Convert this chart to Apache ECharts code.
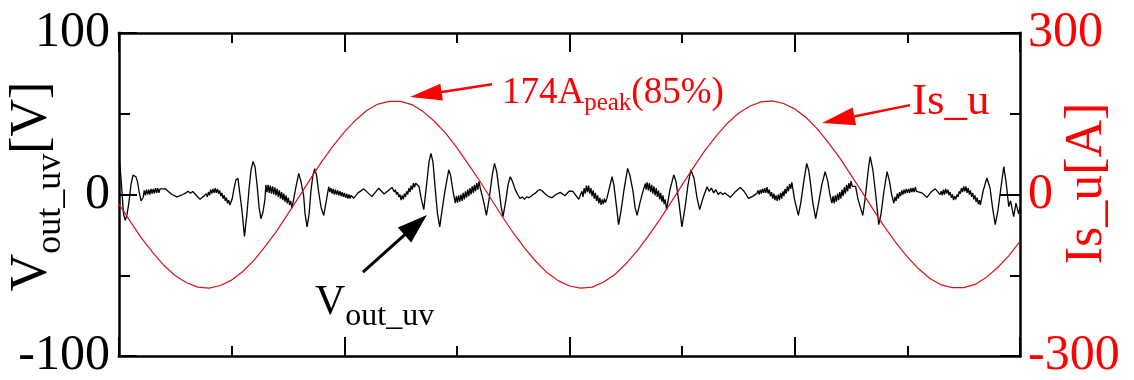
<!DOCTYPE html>
<html><head><meta charset="utf-8">
<script src="https://cdn.jsdelivr.net/npm/echarts@6/dist/echarts.min.js"></script>
<style>html,body{margin:0;padding:0;background:#fff;}#c{width:1134px;height:380px;}</style>
</head><body><div id="c"></div>
<script>
// ---- data (time in ms) ----
const timeRange = [0, 40];
const vRange = [-100, 100];
const iRange = [-300, 300];

// Is_u [A] (every 0.5 ms)
const isU = [[0,-18],[0.5,-50],[1,-81],[1.5,-108],[2,-132],[2.5,-151],[3,-164],[3.5,-172],[4,-174],[4.5,-169],[5,-159],[5.5,-143],[6,-122],[6.5,-96],[7,-68],[7.5,-36],[8,-4],[8.5,29],[9,61],[9.5,90],[10,116],[10.5,138],[11,156],[11.5,168],[12,173],[12.5,173],[13,167],[13.5,154],[14,136],[14.5,114],[15,87],[15.5,57],[16,26],[16.5,-7],[17,-40],[17.5,-71],[18,-99],[18.5,-124],[19,-145],[19.5,-160],[20,-170],[20.5,-174],[21,-172],[21.5,-163],[22,-149],[22.5,-129],[23,-105],[23.5,-77],[24,-47],[24.5,-15],[25,18],[25.5,50],[26,81],[26.5,108],[27,132],[27.5,151],[28,164],[28.5,172],[29,174],[29.5,169],[30,159],[30.5,143],[31,122],[31.5,96],[32,68],[32.5,36],[33,4],[33.5,-29],[34,-61],[34.5,-90],[35,-116],[35.5,-138],[36,-156],[36.5,-168],[37,-173],[37.5,-173],[38,-167],[38.5,-154],[39,-136],[39.5,-114],[40,-87]];

// V_out_uv [V]
const vOutUV = [[0.02,21],[0.09,10],[0.20,-12],[0.28,-16],[0.36,-12],[0.44,-5],[0.53,6],[0.62,12],[0.70,13],[0.75,11],[0.82,8],[0.89,2],[0.98,-4],[1.07,-2],
[1.12,2.5],[1.17,-0.5],[1.22,3],[1.27,0],[1.32,3],[1.37,0],[1.42,3.5],[1.47,0.5],[1.52,3.5],[1.57,0.5],[1.62,4],[1.67,1],[1.72,4],[1.77,1],[1.82,3.5],
[2.06,3.5],[2.18,2],[2.35,0],[2.57,-1.5],[2.84,0],
[2.97,1],[3.07,2],[3.17,0.8],[3.27,1.8],[3.37,0.5],
[3.60,-3],[3.77,-1],
[3.87,0.5],[3.92,-1.5],[3.97,1.5],[4.02,-0.5],[4.07,3],[4.12,0.5],[4.17,3.5],[4.22,1],[4.27,4],[4.32,1],[4.37,3.5],[4.42,0.5],[4.47,2.5],[4.52,-1],[4.57,1],[4.62,-2.5],[4.67,-0.5],[4.72,-4],[4.77,-2],[4.82,-5.5],[4.87,-3.5],[4.92,-6.5],
[5.02,-3],[5.11,4],[5.19,9],[5.28,10],[5.37,0],[5.46,-10],[5.57,-26],[5.68,-12],[5.77,3],[5.86,15],[5.95,20.5],[6.04,17],[6.13,6],[6.22,-8],[6.30,-15],[6.39,-11],[6.48,-3],
[6.52,6],[6.57,1.5],[6.62,6],[6.67,1],[6.72,5.5],[6.77,0.5],[6.82,5],[6.87,0],[6.92,4.5],[6.97,-0.5],[7.02,3.5],[7.07,-1.5],[7.12,2.5],[7.17,-2.5],[7.22,1.5],[7.27,-3.5],[7.32,0.5],[7.37,-4.5],[7.42,-0.5],[7.47,-5.5],[7.52,-2],[7.57,-6.5],[7.62,-4],
[7.68,-8.5],[7.86,5],[7.98,13],[8.08,8],[8.20,-1],[8.26,-12],[8.35,-20],[8.44,-12],[8.52,2],[8.61,12],[8.69,16],[8.77,12],[8.86,2],[8.97,-8],[9.09,-13],[9.19,-5],[9.31,4.8],
[9.36,1.5],[9.41,4],[9.46,0.5],[9.51,3.5],[9.56,0],[9.61,3],[9.66,0],[9.71,2.5],[9.76,-0.5],[9.81,2],[9.86,-1],[9.91,1.5],[9.96,-1.5],[10.01,1],[10.06,-2],[10.11,0.5],[10.16,-2.5],[10.21,0],[10.26,-2.5],[10.31,-0.5],
[10.42,-2.3],[10.61,1],[10.87,3.5],[11.23,-1.3],[11.53,3.9],[11.77,0.3],[12.12,4.4],
[12.17,4.5],[12.22,1.5],[12.27,3],[12.32,0],[12.37,1.5],[12.42,-1.5],[12.47,0],[12.52,-3.5],[12.57,-0.5],[12.62,-3],[12.67,0.5],[12.72,-1.5],[12.77,2],[12.82,0],[12.87,4],[12.92,1.5],[12.97,5.5],[13.02,3],[13.07,7],[13.12,4.5],[13.17,7],
[13.32,5],[13.41,-2],[13.53,-9.4],[13.67,8],[13.76,20],[13.85,25.5],[13.94,20],[14.03,5],[14.14,-12],[14.24,-20],[14.34,-10],[14.48,3],[14.64,15.2],[14.72,12],[14.83,2],[14.93,-5.4],
[14.98,-1],[15.03,-5],[15.08,-0.5],[15.13,-4.5],[15.18,0],[15.23,-4],[15.28,1],[15.33,-3],[15.38,2],[15.43,-2],[15.48,3],[15.53,-1],[15.58,4],[15.63,0],[15.68,5],[15.73,1],[15.78,6],[15.83,2],[15.88,7],[15.93,3],[15.98,8],[16.03,4.5],
[16.10,5],[16.20,-5],[16.31,-12.9],[16.43,-3],[16.57,12],[16.67,19.3],[16.77,14],[16.88,2],[16.97,-8],[17.05,-13.7],[17.18,-3],[17.27,6],[17.37,11],[17.47,8],[17.59,3],
[17.70,0],[17.80,-2.5],[17.90,-1.5],[18.00,-3],[18.10,-1.5],[18.20,-2],[18.35,-0.5],[18.50,1],[18.60,2.5],[18.69,3.1],[18.80,2],[18.95,0],[19.10,-1.5],[19.22,-2],[19.40,0],[19.59,1.3],[19.80,-0.8],[19.98,2],
[20.15,2],[20.41,-3],
[20.55,2],[20.60,-1.5],[20.65,4],[20.70,0.5],[20.75,5.5],[20.80,1.5],[20.85,5.5],[20.90,0.5],[20.95,4],[21.00,-1],[21.05,2.5],[21.10,-2.5],[21.15,1],[21.20,-4],[21.25,-0.5],[21.30,-5.5],[21.35,-2],[21.40,-6.5],[21.45,-3],[21.50,-6],[21.55,-2.5],[21.60,-5],
[21.66,-2.4],[21.89,11],[21.97,6],[22.09,-8],[22.18,-18.7],[22.29,-10],[22.42,3],[22.58,16.2],[22.68,12],[22.82,2],[22.91,-8],[23.00,-12.9],[23.13,-5],[23.26,2],[23.37,6.8],
[23.40,3],[23.45,7.5],[23.50,2.5],[23.55,7],[23.60,1.5],[23.65,6],[23.70,0.5],[23.75,5],[23.80,-0.5],[23.85,4],[23.90,-1.5],[23.95,2.5],[24.00,-3],[24.05,1],[24.10,-4.5],[24.15,-0.5],[24.20,-6],[24.25,-3],
[24.31,-9.4],[24.46,3],[24.63,12.2],[24.73,8],[24.86,-5],[24.99,-20],[25.13,-8],[25.26,6],[25.39,15.2],[25.53,10],[25.66,-2],[25.78,-9.4],[25.93,-2],[26.11,4.8],
[26.20,2],[26.30,4],[26.40,1],[26.50,3],[26.60,0],[26.70,1.5],[26.80,0],[26.90,1],
[27.14,-1.7],[27.35,1.5],[27.58,4.4],[27.75,2],[27.95,-2.4],[28.15,-1],[28.32,0.7],
[28.37,2.5],[28.42,0],[28.47,3],[28.52,0.5],[28.57,3.5],[28.62,1],[28.67,4],[28.72,1],[28.77,4.5],[28.82,0.5],[28.87,3],[28.92,-1],[28.97,1.5],[29.02,-2.5],[29.07,0.5],[29.12,-3.5],[29.17,-0.5],[29.22,-4],[29.27,0],[29.32,-3.5],[29.37,1],[29.42,-2.5],[29.47,2],[29.52,-1],[29.57,3.5],[29.62,0.5],[29.67,5],[29.72,2],[29.77,6.5],[29.82,3.5],[29.87,7.5],
[29.99,-3],[30.16,-12.9],[30.27,-5],[30.40,8],[30.53,19.3],[30.62,15],[30.69,8],[30.80,-5],[30.93,-15],[31.06,-5],[31.20,6],[31.35,14.2],[31.47,8],[31.56,0],[31.65,-5.4],
[31.70,-1],[31.75,-5.5],[31.80,-0.5],[31.85,-4.5],[31.90,0.5],[31.95,-3.5],[32.00,1.5],[32.05,-2.5],[32.10,3],[32.15,-1],[32.20,4.5],[32.25,0.5],[32.30,6],[32.35,2],[32.40,7],[32.45,3.5],[32.50,8.5],[32.55,5],
[32.70,5],[32.81,-3],[33.02,-12.9],[33.12,-3],[33.28,17.2],[33.35,23.5],[33.47,15],[33.61,-2],[33.73,-18.7],[33.83,-12],[33.96,2],[34.10,14.2],[34.21,8],[34.30,0],[34.40,-5.4],
[34.45,-1.5],[34.50,-4],[34.55,0.5],[34.60,-2.5],[34.65,1.5],[34.70,-1],[34.75,2.5],[34.80,0],[34.85,3],[34.90,0.5],[34.95,3.5],[35.00,1],[35.05,3.5],[35.10,1],[35.15,4],[35.20,1.5],[35.25,4],[35.30,1.5],[35.35,4.5],[35.40,2],
[35.45,3],[35.65,1],[35.87,-1.8],[36.05,1.5],[36.24,3.5],[36.45,-0.1],
[36.50,2],[36.55,-0.5],[36.60,3],[36.65,0],[36.70,3.5],[36.75,0.5],[36.80,3],[36.85,-0.5],[36.90,1.5],[36.95,-2],[37.00,0],[37.05,-3.5],[37.10,-1],[37.15,-3],[37.20,0],[37.25,-1.5],[37.30,2],[37.35,0.5],[37.40,4],[37.45,1.5],[37.50,5],[37.55,2],[37.60,5],[37.65,1],[37.70,4],[37.75,0],[37.80,2.5],[37.85,-1.5],[37.90,1],[37.95,-3],[38.00,-0.5],[38.05,-4.5],[38.10,-2],[38.15,-6],[38.20,-3.5],[38.24,-6.5],
[38.36,2],[38.53,10.2],[38.67,4],[38.78,-8],[38.90,-18.7],[39.02,-10],[39.16,5],[39.28,17.2],[39.38,8],[39.50,-7.5],[39.58,-4],[39.72,-13.7],[39.82,-5.4],[39.94,-12],[40.00,-8]];

// annotation anchors in data coordinates [time, value]
const peakArrow = {from:[16.56,205], to:[12.92,181]};
const peakLabelAt = [17.0,188.5];
const isArrow = {from:[35.12,166], to:[31.21,133]};
const isLabelAt = [35.21,172];
const vArrow = {from:[10.83,-48], to:[13.67,-12.7]};
const vLabelAt = [8.7,-67];

// ---- chart ----
const FONT = "'Liberation Serif','Times New Roman',serif";
const RED = '#ff0000';
const chart = echarts.init(document.getElementById('c'));

const axisLineStyle = {color:'#000', width:2.5, cap:'square'};
const tickStyle = {color:'#000', width:2};
function xAx(pos){
  return {type:'value', position:pos, min:timeRange[0], max:timeRange[1], interval:10,
    axisLine:{show:true, onZero:false, lineStyle:axisLineStyle},
    axisTick:{show:true, inside:true, length:19, lineStyle:tickStyle},
    minorTick:{show:true, splitNumber:2, length:10, lineStyle:tickStyle},
    axisLabel:{show:false}, splitLine:{show:false}, minorSplitLine:{show:false}};
}
function yAx(pos, range, color, majorLen, minorLen, margin){
  return {type:'value', position:pos, min:range[0], max:range[1], interval:range[1],
    axisLine:{show:true, onZero:false, lineStyle:axisLineStyle},
    axisTick:{show:true, inside:true, length:majorLen, lineStyle:tickStyle},
    minorTick:{show:true, splitNumber:2, length:minorLen, lineStyle:tickStyle},
    axisLabel:{show:true, color:color, fontSize:50, fontFamily:FONT, margin:margin},
    splitLine:{show:false}, minorSplitLine:{show:false}};
}

chart.setOption({
  animation:false,
  backgroundColor:'#fff',
  grid:{left:119, right:114, top:33, bottom:24, containLabel:false, outerBoundsMode:'none'},
  xAxis:[xAx('bottom'), xAx('top')],
  yAxis:[yAx('left', vRange, '#000', 18, 11, 9), yAx('right', iRange, RED, 20, 10, 8)],
  series:[
    {name:'Vout_uv', type:'line', xAxisIndex:0, yAxisIndex:0, data:vOutUV, showSymbol:false,
     lineStyle:{color:'#000', width:1.3}, z:2},
    {name:'Is_u', type:'line', xAxisIndex:0, yAxisIndex:1, data:isU, smooth:false, showSymbol:false,
     lineStyle:{color:'#d81414', width:1.2}, z:3}
  ]
});

function px(seriesIndex, p){ return chart.convertToPixel({seriesIndex:seriesIndex}, p); }
function arrow(p1, p2, color, lw, hl, hw){
  const dx=p2[0]-p1[0], dy=p2[1]-p1[1], L=Math.hypot(dx,dy), ux=dx/L, uy=dy/L;
  const bx=p2[0]-ux*hl, by=p2[1]-uy*hl, nx=-uy, ny=ux;
  return [
    {type:'line', z:100, shape:{x1:p1[0], y1:p1[1], x2:bx+ux*3, y2:by+uy*3}, style:{stroke:color, lineWidth:lw}},
    {type:'polygon', z:100, shape:{points:[[p2[0],p2[1]],[bx+nx*hw/2,by+ny*hw/2],[bx-nx*hw/2,by-ny*hw/2]]}, style:{fill:color}}
  ];
}
const pl = px(1, peakLabelAt), il = px(1, isLabelAt), vl = px(0, vLabelAt);
const g = [].concat(
  arrow(px(1,peakArrow.from), px(1,peakArrow.to), RED, 2.5, 32, 17),
  arrow(px(1,isArrow.from), px(1,isArrow.to), RED, 2.5, 33, 18),
  arrow(px(0,vArrow.from), px(0,vArrow.to), '#000', 3, 30, 20),
  [
    {type:'text', z:100, x:pl[0], y:pl[1], style:{text:'{m|174A}{s|peak}{m|(85%)}', align:'left', verticalAlign:'middle',
      rich:{m:{fontSize:37, fontFamily:FONT, fill:RED}, s:{fontSize:25, fontFamily:FONT, fill:RED, padding:[21,0,0,0]}}}},
    {type:'text', z:100, x:il[0], y:il[1], style:{text:'Is_u', align:'left', verticalAlign:'middle', fontSize:45, fontFamily:FONT, fill:RED}},
    {type:'text', z:100, x:vl[0], y:vl[1], style:{text:'{m|V}{s|out_uv}', align:'left', verticalAlign:'middle',
      rich:{m:{fontSize:42, fontFamily:FONT, fill:'#000'}, s:{fontSize:32, fontFamily:FONT, fill:'#000', padding:[27,0,0,0]}}}},
    {type:'text', z:100, x:32, y:186.5, rotation:Math.PI/2, style:{text:'{m|V}{s|out_uv}{m|[V]}', align:'center', verticalAlign:'middle',
      rich:{m:{fontSize:52, fontFamily:FONT, fill:'#000'}, s:{fontSize:36, fontFamily:FONT, fill:'#000', padding:[37,0,0,0]}}}},
    {type:'text', z:100, x:1087, y:183.5, rotation:Math.PI/2, style:{text:'Is_u[A]', align:'center', verticalAlign:'middle', fontSize:52, fontFamily:FONT, fill:RED}}
  ]
);
chart.setOption({graphic:g});
</script>
</body></html>
